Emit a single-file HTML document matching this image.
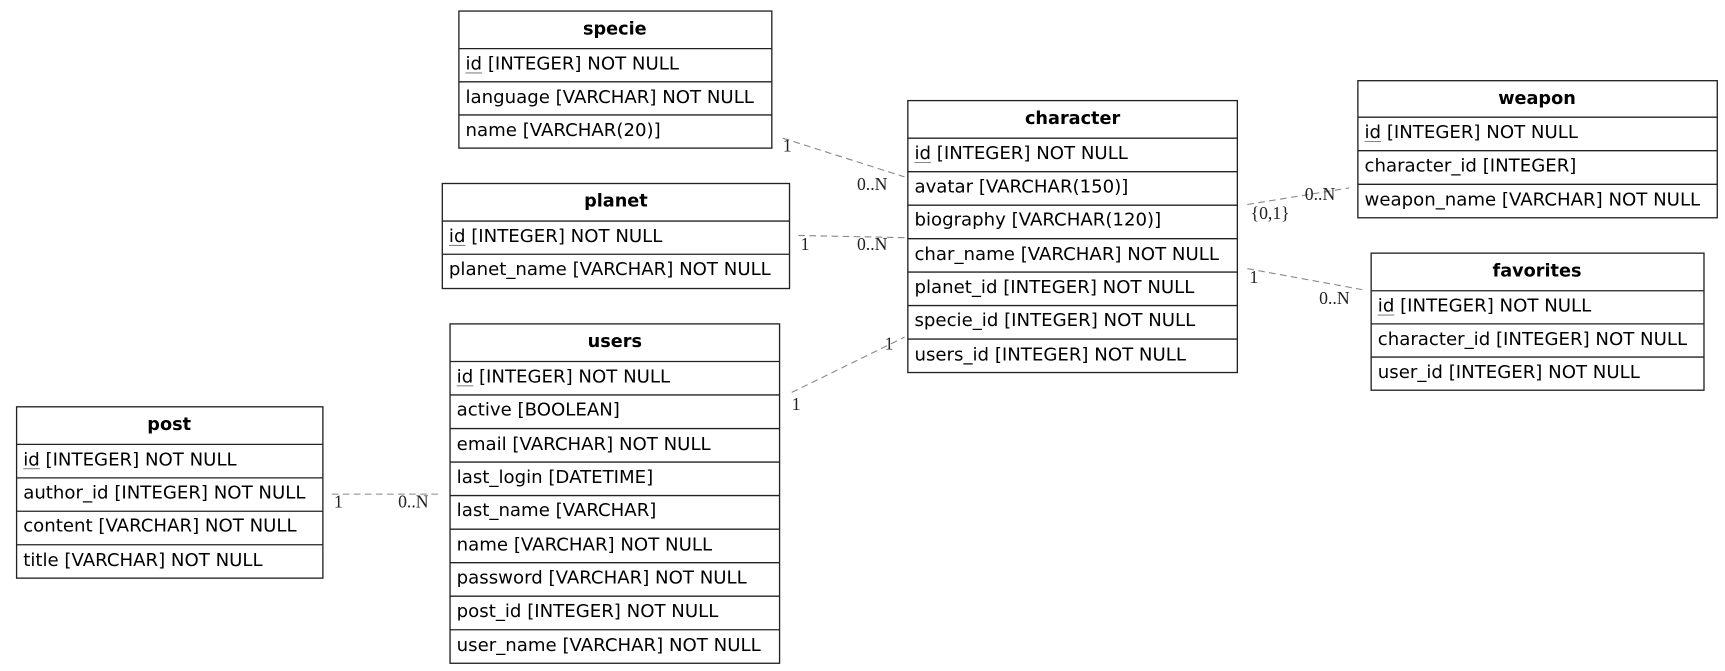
<!DOCTYPE html>
<html><head><meta charset="utf-8"><style>
html,body{margin:0;padding:0;background:#fff;width:1725px;height:671px;overflow:hidden}
svg{display:block}
.h{font:bold 16px "DejaVu Sans","Liberation Sans",sans-serif;text-anchor:middle;fill:#000}
.r{font:16.4px "DejaVu Sans","Liberation Sans",sans-serif;fill:#000}
.l{font:16px "Liberation Serif",serif;fill:#222}
.e{stroke:#888;stroke-width:1;stroke-dasharray:6,4;fill:none}
.b{fill:#fff;stroke:#222;stroke-width:1.2}
.s{stroke:#222;stroke-width:1.2}
.u{stroke:#888;stroke-width:1}
</style></head><body>
<svg width="1725" height="671" viewBox="0 0 1560 607" preserveAspectRatio="none">
<path class="e" d="M708,125 L818,160"/>
<path class="e" d="M722,213 L818,215"/>
<path class="e" d="M716,355 L818,305"/>
<path class="e" d="M300,447 L398,447"/>
<path class="e" d="M1128,185 L1220,170"/>
<path class="e" d="M1128,243 L1232,262"/>
<text class="l" x="708" y="137">1</text><text class="l" x="775" y="172">0..N</text>
<text class="l" x="724" y="226">1</text><text class="l" x="775" y="226">0..N</text>
<text class="l" x="716" y="371">1</text><text class="l" x="800" y="316">1</text>
<text class="l" x="302" y="459">1</text><text class="l" x="360" y="459">0..N</text>
<text class="l" x="1131" y="198">{0,1}</text><text class="l" x="1180" y="181">0..N</text>
<text class="l" x="1130" y="256">1</text><text class="l" x="1193" y="275">0..N</text>

<rect class="b" x="415" y="10" width="283" height="124"/>
<line class="s" x1="415" y1="44" x2="698" y2="44"/><line class="s" x1="415" y1="74" x2="698" y2="74"/><line class="s" x1="415" y1="104" x2="698" y2="104"/>
<text class="h" x="556" y="31">specie</text>
<text class="r" x="421" y="63">id [INTEGER] NOT NULL</text><line class="u" x1="421" y1="66" x2="436" y2="66"/>
<text class="r" x="421" y="93">language [VARCHAR] NOT NULL</text>
<text class="r" x="421" y="123">name [VARCHAR(20)]</text>

<rect class="b" x="400" y="166" width="314" height="95"/>
<line class="s" x1="400" y1="200" x2="714" y2="200"/><line class="s" x1="400" y1="230" x2="714" y2="230"/>
<text class="h" x="557" y="187">planet</text>
<text class="r" x="406" y="219">id [INTEGER] NOT NULL</text><line class="u" x1="406" y1="222" x2="421" y2="222"/>
<text class="r" x="406" y="249">planet_name [VARCHAR] NOT NULL</text>

<rect class="b" x="407" y="293" width="298" height="307"/>
<line class="s" x1="407" y1="327" x2="705" y2="327"/>
<line class="s" x1="407" y1="357.3" x2="705" y2="357.3"/>
<line class="s" x1="407" y1="387.7" x2="705" y2="387.7"/>
<line class="s" x1="407" y1="418" x2="705" y2="418"/>
<line class="s" x1="407" y1="448.3" x2="705" y2="448.3"/>
<line class="s" x1="407" y1="478.7" x2="705" y2="478.7"/>
<line class="s" x1="407" y1="509" x2="705" y2="509"/>
<line class="s" x1="407" y1="539.3" x2="705" y2="539.3"/>
<line class="s" x1="407" y1="569.7" x2="705" y2="569.7"/>
<text class="h" x="556" y="314">users</text>
<text class="r" x="413" y="346">id [INTEGER] NOT NULL</text><line class="u" x1="413" y1="349" x2="428" y2="349"/>
<text class="r" x="413" y="376">active [BOOLEAN]</text>
<text class="r" x="413" y="407">email [VARCHAR] NOT NULL</text>
<text class="r" x="413" y="437">last_login [DATETIME]</text>
<text class="r" x="413" y="467">last_name [VARCHAR]</text>
<text class="r" x="413" y="498">name [VARCHAR] NOT NULL</text>
<text class="r" x="413" y="528">password [VARCHAR] NOT NULL</text>
<text class="r" x="413" y="558">post_id [INTEGER] NOT NULL</text>
<text class="r" x="413" y="589">user_name [VARCHAR] NOT NULL</text>

<rect class="b" x="15" y="368" width="277" height="155"/>
<line class="s" x1="15" y1="402" x2="292" y2="402"/><line class="s" x1="15" y1="432.3" x2="292" y2="432.3"/><line class="s" x1="15" y1="462.5" x2="292" y2="462.5"/><line class="s" x1="15" y1="492.8" x2="292" y2="492.8"/>
<text class="h" x="153" y="389">post</text>
<text class="r" x="21" y="421">id [INTEGER] NOT NULL</text><line class="u" x1="21" y1="424" x2="36" y2="424"/>
<text class="r" x="21" y="451">author_id [INTEGER] NOT NULL</text>
<text class="r" x="21" y="481">content [VARCHAR] NOT NULL</text>
<text class="r" x="21" y="512">title [VARCHAR] NOT NULL</text>

<rect class="b" x="821" y="91" width="298" height="246"/>
<line class="s" x1="821" y1="125" x2="1119" y2="125"/>
<line class="s" x1="821" y1="155.3" x2="1119" y2="155.3"/>
<line class="s" x1="821" y1="185.6" x2="1119" y2="185.6"/>
<line class="s" x1="821" y1="215.9" x2="1119" y2="215.9"/>
<line class="s" x1="821" y1="246.1" x2="1119" y2="246.1"/>
<line class="s" x1="821" y1="276.4" x2="1119" y2="276.4"/>
<line class="s" x1="821" y1="306.7" x2="1119" y2="306.7"/>
<text class="h" x="970" y="112">character</text>
<text class="r" x="827" y="144">id [INTEGER] NOT NULL</text><line class="u" x1="827" y1="147" x2="842" y2="147"/>
<text class="r" x="827" y="174">avatar [VARCHAR(150)]</text>
<text class="r" x="827" y="204">biography [VARCHAR(120)]</text>
<text class="r" x="827" y="235">char_name [VARCHAR] NOT NULL</text>
<text class="r" x="827" y="265">planet_id [INTEGER] NOT NULL</text>
<text class="r" x="827" y="295">specie_id [INTEGER] NOT NULL</text>
<text class="r" x="827" y="326">users_id [INTEGER] NOT NULL</text>

<rect class="b" x="1228" y="73" width="325" height="124"/>
<line class="s" x1="1228" y1="106" x2="1553" y2="106"/><line class="s" x1="1228" y1="136.3" x2="1553" y2="136.3"/><line class="s" x1="1228" y1="166.7" x2="1553" y2="166.7"/>
<text class="h" x="1390" y="94">weapon</text>
<text class="r" x="1234" y="125">id [INTEGER] NOT NULL</text><line class="u" x1="1234" y1="128" x2="1249" y2="128"/>
<text class="r" x="1234" y="155">character_id [INTEGER]</text>
<text class="r" x="1234" y="186">weapon_name [VARCHAR] NOT NULL</text>

<rect class="b" x="1240" y="229" width="301" height="124"/>
<line class="s" x1="1240" y1="263" x2="1541" y2="263"/><line class="s" x1="1240" y1="293" x2="1541" y2="293"/><line class="s" x1="1240" y1="323" x2="1541" y2="323"/>
<text class="h" x="1390" y="250">favorites</text>
<text class="r" x="1246" y="282">id [INTEGER] NOT NULL</text><line class="u" x1="1246" y1="285" x2="1261" y2="285"/>
<text class="r" x="1246" y="312">character_id [INTEGER] NOT NULL</text>
<text class="r" x="1246" y="342">user_id [INTEGER] NOT NULL</text>
</svg>
</body></html>
